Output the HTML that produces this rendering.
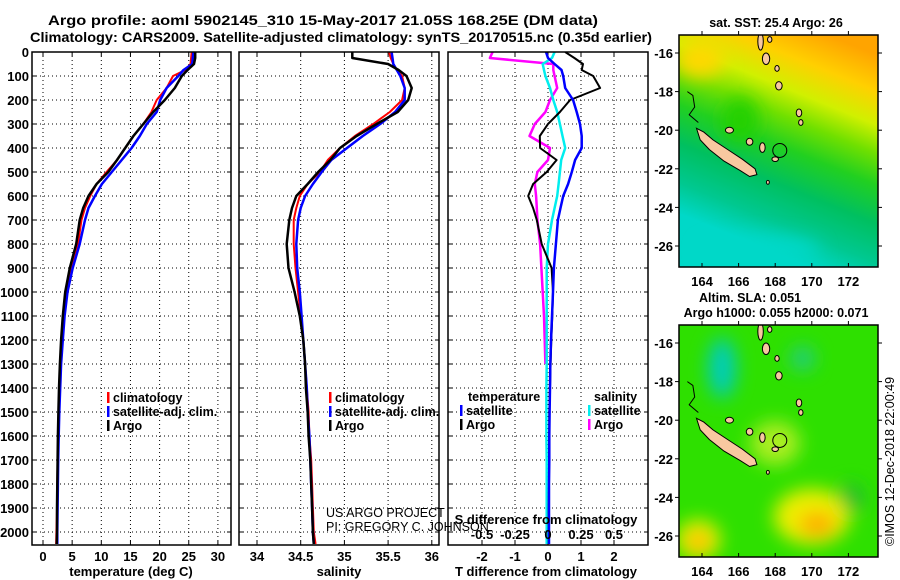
<!DOCTYPE html>
<html><head><meta charset="utf-8"><style>
html,body{margin:0;padding:0;background:#fff;}
svg{display:block;font-family:"Liberation Sans",Arial,sans-serif;}
.b{font-weight:bold;}
</style></head><body>
<svg id="fig" width="900" height="580" viewBox="0 0 900 580" xmlns="http://www.w3.org/2000/svg">
<defs>
<clipPath id="c1"><rect x="32" y="52" width="199" height="493"/></clipPath>
<clipPath id="c2"><rect x="239" y="52" width="200" height="493"/></clipPath>
<clipPath id="c3"><rect x="448" y="52" width="200" height="493"/></clipPath>
<clipPath id="m1"><rect x="679" y="35" width="199" height="232"/></clipPath>
<clipPath id="m2"><rect x="679" y="325" width="199" height="232"/></clipPath>
<filter id="blur" x="-50%" y="-50%" width="200%" height="200%"><feGaussianBlur stdDeviation="9"/></filter>
<linearGradient id="sst" x1="0.75" y1="0" x2="0.4" y2="1">
<stop offset="0" stop-color="#ffa400"/><stop offset="0.14" stop-color="#ffd000"/>
<stop offset="0.27" stop-color="#d0f000"/><stop offset="0.38" stop-color="#70e000"/>
<stop offset="0.5" stop-color="#22d020"/><stop offset="0.65" stop-color="#00c060"/>
<stop offset="0.8" stop-color="#00c890"/><stop offset="0.92" stop-color="#00d8c8"/>
</linearGradient>
</defs>
<g id="titles" class="b" font-size="14">
<text x="48" y="25" textLength="550" lengthAdjust="spacingAndGlyphs">Argo profile: aoml 5902145_310 15-May-2017 21.05S 168.25E (DM data)</text>
<text x="30" y="42" textLength="622" lengthAdjust="spacingAndGlyphs">Climatology: CARS2009. Satellite-adjusted climatology: synTS_20170515.nc (0.35d earlier)</text>
</g>
<g id="grid"></g>
<g id="lines"></g>
<g id="axes"></g>
<g id="maps"></g>
</svg>
<script>
// ---------- data ----------
const depthTicks = [0,100,200,300,400,500,600,700,800,900,1000,1100,1200,1300,1400,1500,1600,1700,1800,1900,2000];
const tTicks = [0,5,10,15,20,25,30];
const sTicks = [34,34.5,35,35.5,36];
const sTickLabels = ["34","34.5","35","35.5","36"];
const dtTicks = [-2,-1,0,1,2];
const dsTicks = [-0.5,-0.25,0,0.25,0.5];
const dsTickLabels = ["-0.5","-0.25","0","0.25","0.5"];
const depths = [0,25,50,75,100,150,200,250,300,350,400,450,500,550,600,650,700,800,900,1000,1100,1200,1300,1400,1500,1600,1700,1800,1900,2000,2050];
const tempArgo = [26.1,26.1,25.9,24.8,23.8,22.6,20.9,18.9,17.2,15.5,14.1,12.7,11.2,9.2,7.8,6.9,6.3,5.7,4.6,3.8,3.4,3.1,2.9,2.75,2.65,2.55,2.5,2.45,2.4,2.4,2.35];
const tempClim = [25.5,25.4,25.3,24.4,22.3,21.2,19.5,18.6,17.2,15.5,14.1,12.7,10.9,9.2,8.1,7.2,6.6,6.0,4.8,4.0,3.5,3.2,2.95,2.8,2.7,2.6,2.5,2.45,2.4,2.3,2.25];
const tempSat = [25.8,25.7,25.6,24.1,23.2,21.2,20.1,19.5,17.8,16.6,15.2,13.5,11.8,10.1,8.9,7.8,7.2,6.3,5.1,4.2,3.7,3.4,3.1,2.95,2.8,2.7,2.6,2.55,2.5,2.45,2.45];
const salArgo = [35.09,35.09,35.50,35.62,35.71,35.77,35.73,35.61,35.37,35.14,34.95,34.84,34.70,34.58,34.45,34.40,34.37,34.34,34.36,34.43,34.49,34.53,34.55,34.56,34.58,34.59,34.61,34.62,34.63,34.64,34.65];
const salClim = [35.51,35.53,35.56,35.60,35.66,35.69,35.66,35.52,35.33,35.12,34.95,34.81,34.72,34.58,34.49,34.45,34.42,34.42,34.44,34.47,34.50,34.53,34.55,34.57,34.59,34.60,34.62,34.63,34.64,34.65,34.67];
const salSat = [35.54,35.55,35.56,35.60,35.64,35.69,35.69,35.58,35.41,35.21,35.03,34.85,34.74,34.64,34.55,34.50,34.47,34.45,34.46,34.49,34.51,34.53,34.55,34.57,34.58,34.60,34.61,34.62,34.63,34.64,34.65];
const dTArgo = [0.52,0.8,1.06,1.02,1.37,1.58,0.67,0.36,0.0,-0.25,-0.24,0.26,-0.04,-0.45,-0.6,-0.45,-0.34,-0.19,0.11,0.15,0.13,0.1,0.08,0.06,0.04,0.04,0.03,0.03,0.02,0.02,0.02];
const dTSat = [-0.06,0.0,0.2,0.41,0.46,0.52,0.76,0.87,0.97,1.02,1.02,0.82,0.72,0.61,0.46,0.38,0.3,0.24,0.18,0.15,0.12,0.09,0.07,0.06,0.05,0.04,0.04,0.03,0.03,0.03,0.03];
const dSArgo = [-0.42,-0.44,0.04,0.04,0.05,0.07,0.015,-0.02,-0.1,-0.14,0.015,0.0,-0.08,-0.1,-0.09,-0.085,-0.08,-0.06,-0.05,-0.04,-0.03,-0.025,-0.02];
const dSSat = [0.05,0.03,-0.04,-0.03,-0.02,0.015,0.04,0.07,0.09,0.11,0.13,0.1,0.09,0.08,0.07,0.05,0.03,0.0,-0.01,-0.01,-0.01,-0.01,-0.01,-0.012,-0.012,-0.012,-0.01,-0.01,-0.01,-0.01,-0.01];
const mapLonTicks = [164,166,168,170,172];
const mapLatTicks = [-16,-18,-20,-22,-24,-26];
// ---------- scales ----------
const NS = "http://www.w3.org/2000/svg";
const yD = d => 52 + d*0.24;
const xT = t => 43 + t*5.83;
const xS = s => 257 + (s-34)*87.4;
const xDT = t => 548 + t*33;
const xDS = s => 548 + s*132;
const lonX = lo => 702 + (lo-164)*18.3;
const latY1 = la => 53 + (-16-la)*19.3;
const latY2 = la => 343 + (-16-la)*19.3;
function mk(tag, attrs, parent){const e=document.createElementNS(NS,tag);for(const k in attrs)e.setAttribute(k,attrs[k]);parent.appendChild(e);return e;}
const grid=document.getElementById('grid'), lines=document.getElementById('lines'), axes=document.getElementById('axes'), maps=document.getElementById('maps');
const panels=[{x0:32,x1:231,ticks:tTicks,fx:xT,clip:'c1'},{x0:239,x1:439,ticks:sTicks,fx:xS,clip:'c2'},{x0:448,x1:648,ticks:dtTicks,fx:xDT,clip:'c3'}];
panels.forEach((p,i)=>{
  depthTicks.forEach(d=>{const l=mk('line',{x1:p.x0,x2:p.x1,y1:yD(d),y2:yD(d),stroke:'#000','stroke-width':1,'stroke-dasharray':'1,3'},grid);
    
    
    mk('line',{x1:p.x0,x2:p.x0+4,y1:yD(d),y2:yD(d),stroke:'#000'},grid);mk('line',{x1:p.x1-4,x2:p.x1,y1:yD(d),y2:yD(d),stroke:'#000'},grid);});
  p.ticks.forEach(t=>{const l=mk('line',{x1:p.fx(t),x2:p.fx(t),y1:52,y2:545,stroke:'#000','stroke-width':1,'stroke-dasharray':'1,3'},grid);
    
    
    mk('line',{x1:p.fx(t),x2:p.fx(t),y1:541,y2:545,stroke:'#000'},grid);mk('line',{x1:p.fx(t),x2:p.fx(t),y1:52,y2:56,stroke:'#000'},grid);});
  const r=mk('rect',{x:p.x0,y:52,width:p.x1-p.x0,height:493,fill:'none',stroke:'#000','stroke-width':1.5},axes);
  
  
});
function txt(s,x,y,attrs,parent,name){const t=mk('text',Object.assign({x:x,y:y},attrs),parent);t.textContent=s;
  
  
  return t;}
depthTicks.forEach(d=>txt(String(d),29,yD(d)+5,{'text-anchor':'end','font-size':13,'font-weight':'bold'},axes,'depth-tick-label'));
tTicks.forEach(t=>txt(String(t),xT(t),561,{'text-anchor':'middle','font-size':13,'font-weight':'bold'},axes,'temperature-tick-label'));
sTicks.forEach((s,i)=>txt(sTickLabels[i],xS(s),561,{'text-anchor':'middle','font-size':13,'font-weight':'bold'},axes,'salinity-tick-label'));
dtTicks.forEach(t=>txt(String(t),xDT(t),561,{'text-anchor':'middle','font-size':13,'font-weight':'bold'},axes,'t-diff-tick-label'));
dsTicks.forEach((s,i)=>txt(dsTickLabels[i],xDS(s),539,{'text-anchor':'middle','font-size':13,'font-weight':'bold'},axes,'s-diff-tick-label'));
txt('temperature (deg C)',131,576,{'text-anchor':'middle','font-size':13,'font-weight':'bold'},axes,'x-axis-title-temperature');
txt('salinity',339,576,{'text-anchor':'middle','font-size':13,'font-weight':'bold'},axes,'x-axis-title-salinity');
txt('T difference from climatology',546,576,{'text-anchor':'middle','font-size':13,'font-weight':'bold'},axes,'x-axis-title-t-difference');
txt('S difference from climatology',546,524,{'text-anchor':'middle','font-size':13,'font-weight':'bold'},axes,'x-axis-title-s-difference');
txt('US ARGO PROJECT',326,517,{'font-size':12.5},axes,'project-credit');
txt('PI: GREGORY C. JOHNSON',326,531,{'font-size':12.5},axes,'pi-credit');
function profile(vals,fx,color,w,clip,name){
  const pts=vals.map((v,i)=>fx(v).toFixed(1)+','+yD(depths[i]).toFixed(1)).join(' ');
  const pl=mk('polyline',{points:pts,fill:'none',stroke:color,'stroke-width':w,'clip-path':'url(#'+clip+')','stroke-linejoin':'round'},lines);
  
  
}
profile(tempClim,xT,'#ff0000',2,'c1','temperature-climatology-line');
profile(tempSat,xT,'#0000ff',2.5,'c1','temperature-satellite-line');
profile(tempArgo,xT,'#000',2.5,'c1','temperature-argo-line');
profile(salClim,xS,'#ff0000',2,'c2','salinity-climatology-line');
profile(salSat,xS,'#0000ff',2.5,'c2','salinity-satellite-line');
profile(salArgo,xS,'#000',2.5,'c2','salinity-argo-line');
profile(dSArgo,xDS,'#ff00ff',2.5,'c3','s-diff-argo-line');
profile(dSSat,xDS,'#00eeee',2.5,'c3','s-diff-satellite-line');
profile(dTArgo,xDT,'#000',2,'c3','t-diff-argo-line');
profile(dTSat,xDT,'#0000ff',2.5,'c3','t-diff-satellite-line');
// legends
function leg(x,y,color,label,name){mk('rect',{x:x,y:y-10,width:2.5,height:11,fill:color},axes);txt(label,x+6,y,{'font-size':12.5,'font-weight':'bold'},axes,name);}
leg(107,402,'#ff0000','climatology','legend-climatology');leg(107,416,'#0000ff','satellite-adj. clim.','legend-satellite-adj');leg(107,430,'#000','Argo','legend-argo');
leg(329,402,'#ff0000','climatology','legend-climatology-2');leg(329,416,'#0000ff','satellite-adj. clim.','legend-satellite-adj-2');leg(329,430,'#000','Argo','legend-argo-2');
txt('temperature',468,401,{'font-size':12.5,'font-weight':'bold'},axes,'legend-temperature-header');
leg(460,415,'#0000ff','satellite','legend-t-satellite');leg(460,429,'#000','Argo','legend-t-argo');
txt('salinity',594,401,{'font-size':12.5,'font-weight':'bold'},axes,'legend-salinity-header');
leg(588,415,'#00eeee','satellite','legend-s-satellite');leg(588,429,'#ff00ff','Argo','legend-s-argo');
// ---------- maps ----------
const ncal=[[163.7,-19.9],[164.1,-20.1],[164.6,-20.5],[165.4,-21.0],[166.2,-21.5],[166.9,-22.0],[167.0,-22.3],[166.6,-22.4],[166.1,-22.1],[165.2,-21.6],[164.4,-21.0],[163.9,-20.5]];
const isles=[[167.2,-15.4,0.15,0.45],[167.5,-16.3,0.2,0.3],[168.2,-17.7,0.18,0.22],[169.3,-19.1,0.15,0.2],[169.4,-19.6,0.12,0.15],[167.3,-20.9,0.15,0.25],[168.0,-21.5,0.18,0.12],[165.5,-20.0,0.22,0.15],[166.6,-20.6,0.18,0.18],[167.6,-22.7,0.08,0.1],[167.7,-15.3,0.12,0.15],[168.1,-16.8,0.12,0.15]];
function drawMap(clip,latY,y0,name,bgfn){
  const g=mk('g',{'clip-path':'url(#'+clip+')'},maps);
  
  
  bgfn(g);
  const pts=ncal.map(p=>lonX(p[0]).toFixed(1)+','+latY(p[1]).toFixed(1)).join(' ');
  mk('polygon',{points:pts,fill:'#f8c8a0',stroke:'#000','stroke-width':1},g);
  isles.forEach(s=>mk('ellipse',{cx:lonX(s[0]),cy:latY(s[1]),rx:s[2]*18.3,ry:s[3]*19.3,fill:'#f8c8a0',stroke:'#000','stroke-width':1},g));
  mk('polyline',{points:[[163.2,-18],[163.5,-18.2],[163.6,-18.8],[163.3,-19.2],[163.8,-19.6]].map(p=>lonX(p[0])+','+latY(p[1])).join(' '),fill:'none',stroke:'#000'},g);
  mk('circle',{cx:lonX(168.25),cy:latY(-21.05),r:7,fill:'none',stroke:'#000','stroke-width':1},g);
  const fr=mk('rect',{x:679,y:y0,width:199,height:232,fill:'none',stroke:'#000','stroke-width':1.5},maps);
  
  
  mapLonTicks.forEach(lo=>{mk('line',{x1:lonX(lo),x2:lonX(lo),y1:y0+232,y2:y0+228,stroke:'#000'},maps);mk('line',{x1:lonX(lo),x2:lonX(lo),y1:y0,y2:y0-4,stroke:'#000'},maps);
    txt(String(lo),lonX(lo),y0+251,{'text-anchor':'middle','font-size':13,'font-weight':'bold'},maps,'map-lon-label');});
  mapLatTicks.forEach(la=>{mk('line',{x1:679,x2:675,y1:latY(la),y2:latY(la),stroke:'#000'},maps);mk('line',{x1:878,x2:882,y1:latY(la),y2:latY(la),stroke:'#000'},maps);
    txt(String(la),673,latY(la)+5,{'text-anchor':'end','font-size':13,'font-weight':'bold'},maps,'map-lat-label');});
}
drawMap('m1',latY1,35,'sst-map',g=>{
  mk('rect',{x:679,y:35,width:199,height:232,fill:'url(#sst)'},g);
  const b=mk('g',{filter:'url(#blur)'},g);
  mk('ellipse',{cx:740,cy:120,rx:18,ry:22,fill:'#22d000'},b);
  mk('ellipse',{cx:760,cy:250,rx:60,ry:14,fill:'#00d8c8'},b);
  mk('ellipse',{cx:700,cy:60,rx:25,ry:18,fill:'#ffd800'},b);
});
drawMap('m2',latY2,325,'sla-map',g=>{
  mk('rect',{x:679,y:325,width:199,height:232,fill:'#2ee000'},g);
  const b=mk('g',{filter:'url(#blur)'},g);
  mk('ellipse',{cx:lonX(165.1),cy:latY2(-17.3),rx:14,ry:30,fill:'#00ccbb'},b);
  mk('ellipse',{cx:lonX(169.5),cy:latY2(-16.8),rx:12,ry:12,fill:'#22cc88'},b);
  mk('ellipse',{cx:lonX(168),cy:latY2(-21.2),rx:25,ry:22,fill:'#aaee22'},b);
  mk('ellipse',{cx:lonX(170.0),cy:latY2(-25.0),rx:38,ry:28,fill:'#eeee00'},b);
  mk('ellipse',{cx:lonX(170.3),cy:latY2(-25.4),rx:18,ry:12,fill:'#ffaa00'},b);
  mk('ellipse',{cx:lonX(163.8),cy:latY2(-26.2),rx:22,ry:20,fill:'#eeee00'},b);
  mk('ellipse',{cx:lonX(163.8),cy:latY2(-26.3),rx:10,ry:9,fill:'#ffaa00'},b);
  mk('ellipse',{cx:lonX(172.2),cy:latY2(-24),rx:12,ry:14,fill:'#22bb33'},b);
});
txt('sat. SST: 25.4 Argo: 26',776,27,{'text-anchor':'middle','font-size':12.5,'font-weight':'bold'},maps,'sst-map-title');
txt('Altim. SLA: 0.051',750,302,{'text-anchor':'middle','font-size':12.5,'font-weight':'bold'},maps,'sla-map-title');
txt('Argo h1000: 0.055 h2000: 0.071',776,317,{'text-anchor':'middle','font-size':12.5,'font-weight':'bold'},maps,'argo-height-title');
txt('©IMOS 12-Dec-2018 22:00:49',0,0,{'font-size':12.5,transform:'translate(894,546) rotate(-90)'},maps,'imos-timestamp');
</script>
</body></html>
